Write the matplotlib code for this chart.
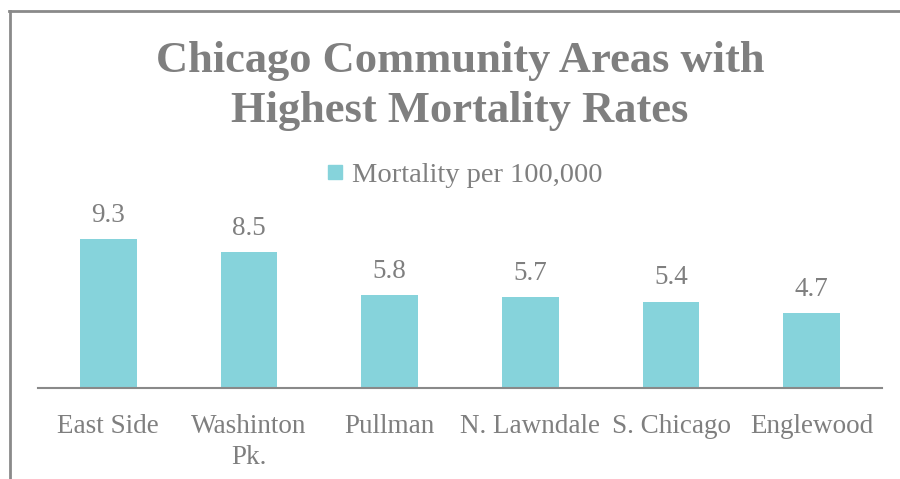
import matplotlib
matplotlib.use("Agg")
import matplotlib.pyplot as plt
from matplotlib.lines import Line2D

areas = ["East Side", "Washinton\nPk.", "Pullman", "N. Lawndale", "S. Chicago", "Englewood"]
mortality = [9.3, 8.5, 5.8, 5.7, 5.4, 4.7]
series_name = "Mortality per 100,000"

bar_color = "#86D3DB"
text_color = "#7F7F7F"
serif = ["Liberation Serif", "DejaVu Serif"]

W, H = 900, 479
fig = plt.figure(figsize=(W / 100, H / 100), dpi=100)

# axes: x 38..882 px, baseline at y=388 px
ax = fig.add_axes([38 / W, (H - 388) / H, 844 / W, 160 / H])
x = range(len(areas))
bars = ax.bar(x, mortality, width=0.405, color=bar_color)
ax.set_xlim(-0.5, len(areas) - 0.5)
ax.set_ylim(0, 10)
ax.set_yticks([])
for s in ["top", "right", "left"]:
    ax.spines[s].set_visible(False)
ax.spines["bottom"].set_color("#898989")
ax.spines["bottom"].set_linewidth(1.5)
ax.set_xticks(list(x))
ax.set_xticklabels(areas, family=serif, fontsize=19.5, color=text_color, linespacing=1.3)
ax.tick_params(axis="x", length=0, pad=19)

for b, v in zip(bars, mortality):
    ax.annotate(f"{v}", (b.get_x() + b.get_width() / 2, v), xytext=(0, 8),
                textcoords="offset points", ha="center", va="bottom",
                family=serif, fontsize=19.5, color=text_color)

# title
fig.text(460 / W, 1 - 72 / H, "Chicago Community Areas with", ha="center", va="baseline",
         family=serif, fontsize=32, fontweight="bold", color=text_color)
fig.text(460 / W, 1 - 122 / H, "Highest Mortality Rates", ha="center", va="baseline",
         family=serif, fontsize=32, fontweight="bold", color=text_color)

# legend
handle = Line2D([], [], marker="s", linestyle="none", markersize=10,
                markerfacecolor=bar_color, markeredgecolor=bar_color)
fig.legend([handle], [series_name], loc="center", bbox_to_anchor=(464 / W, 1 - 175 / H),
           frameon=False, handlelength=0.7, handletextpad=0.25, borderaxespad=0,
           prop={"family": serif, "size": 20.5}, labelcolor=text_color)

# chart border (left and top visible)
fig.add_artist(Line2D([9.5 / W, 9.5 / W], [0, 1 - 11 / H], color="#8A8A8A", lw=2,
                      transform=fig.transFigure))
fig.add_artist(Line2D([8.5 / W, 1], [1 - 11 / H, 1 - 11 / H], color="#8A8A8A", lw=2,
                      transform=fig.transFigure))

fig.savefig("out.png", dpi=100)
